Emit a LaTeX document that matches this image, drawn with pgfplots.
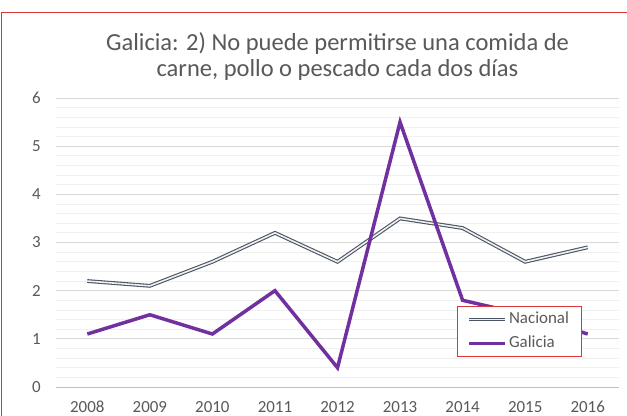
\documentclass[border=0pt]{standalone}
\usepackage{fontspec}
\setmainfont{Carlito}
\usepackage{pgfplots}
\pgfplotsset{compat=1.18}
\definecolor{txt}{HTML}{595959}
\definecolor{gal}{HTML}{7030A0}
\definecolor{nac}{HTML}{4A5565}
\definecolor{bord}{HTML}{D9383A}
\definecolor{gmaj}{HTML}{D9D9D9}
\definecolor{gmin}{HTML}{F0F0F0}
\definecolor{zline}{HTML}{BFBFBF}
\begin{document}
\begin{tikzpicture}
\useasboundingbox (0,0) rectangle (627bp,416bp);
\fill[white] (0,0) rectangle (627bp,416bp);
\draw[bord, line width=1bp] (1bp,-10bp) -- (1bp,403.3bp) -- (640bp,403.3bp);
\node[anchor=base, text=txt, font=\fontsize{24.6}{29}\selectfont, inner sep=0] at (337.5bp,365bp) {Galicia: 2) No puede permitirse una comida de};
\node[anchor=base, text=txt, font=\fontsize{24.6}{29}\selectfont, inner sep=0] at (337.5bp,339bp) {carne, pollo o pescado cada dos días};
\begin{axis}[
  at={(56bp,29bp)}, anchor=south west,
  scale only axis, width=563bp, height=289bp,
  xmin=2007.5, xmax=2016.5, ymin=0, ymax=6,
  xtick={2008,2009,2010,2011,2012,2013,2014,2015,2016},
  ytick={0,1,2,3,4,5,6},
  minor y tick num=4,
  ymajorgrids, yminorgrids,
  major grid style={gmaj, line width=0.75bp},
  minor grid style={gmin, line width=0.75bp},
  axis x line*=bottom, axis y line*=left,
  x axis line style={zline, line width=0.75bp},
  y axis line style={draw=none},
  major tick length=0pt, minor tick length=0pt,
  tick style={draw=none},
  /pgf/number format/1000 sep={},
  /pgf/number format/assume math mode=true,
  ticklabel style={font=\fontsize{17}{20}\selectfont, text=txt, inner sep=0pt},
  xticklabel style={anchor=north, yshift=-14bp},
  yticklabel style={anchor=east, xshift=-15bp},
  legend style={at={(0.712,0.104)}, anchor=south west, draw=bord, line width=0.75bp, fill=white,
    font=\fontsize{17}{20}\selectfont, text=txt, inner xsep=10bp, inner ysep=4bp, row sep=6bp,
    nodes={inner sep=2bp, text height=11bp, text depth=3bp}},
  legend cell align=left,
  legend image code/.code={\draw[#1] (0bp,0bp) -- (36bp,0bp);},
]
\addplot[draw=nac, double=gray!12, line width=1.1bp, double distance=1.6bp] coordinates {
(2008,2.2) (2009,2.1) (2010,2.6) (2011,3.2) (2012,2.6) (2013,3.5) (2014,3.3) (2015,2.6) (2016,2.9)};
\addlegendentry{Nacional}
\addplot[draw=gal, line width=3.5bp] coordinates {
(2008,1.1) (2009,1.5) (2010,1.1) (2011,2.0) (2012,0.4) (2013,5.5) (2014,1.8) (2015,1.5) (2016,1.1)};
\addlegendentry{Galicia}
\end{axis}
\end{tikzpicture}
\end{document}
